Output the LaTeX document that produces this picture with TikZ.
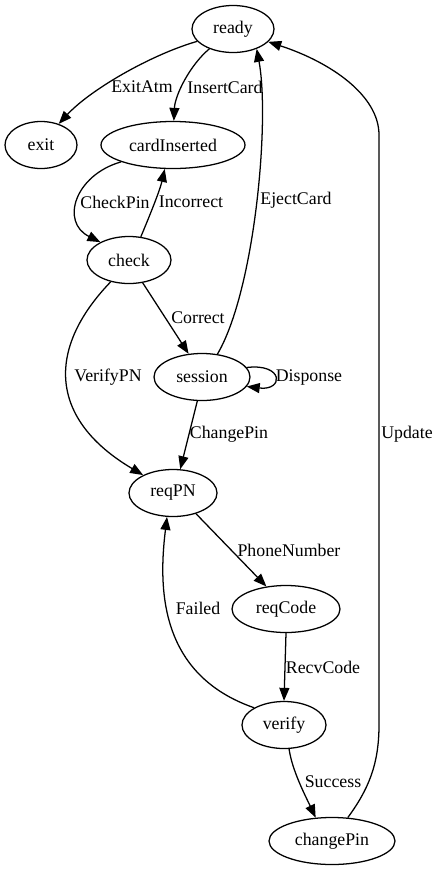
\documentclass[tikz,border=0pt]{standalone}
\usepackage{fontspec}
\setmainfont{Liberation Serif}
\usetikzlibrary{shapes.geometric,arrows.meta}

\tikzset{
  state/.style={ellipse, draw, line width=1.27pt, inner sep=0pt, minimum height=47pt},
  lbl/.style={inner sep=0pt},
  edge/.style={-{Triangle[length=13pt,width=10pt]}, line width=1.27pt}
}

\begin{document}
\begin{tikzpicture}[x=1pt, y=-1pt, font=\fontsize{17.8}{20}\selectfont]
\useasboundingbox (0,0) rectangle (439,871);
\node[state, minimum width=82pt] (ready) at (233,29) {ready};
\node[state, minimum width=72pt] (exit) at (41,145) {exit};
\node[state, minimum width=144pt] (cardInserted) at (173,145) {cardInserted};
\node[state, minimum width=84pt] (check) at (129,260) {check};
\node[state, minimum width=96pt] (session) at (202,377) {session};
\node[state, minimum width=88pt] (reqPN) at (173,493) {reqPN};
\node[state, minimum width=108pt] (reqCode) at (286,609) {reqCode};
\node[state, minimum width=84pt] (verify) at (284,725) {verify};
\node[state, minimum width=126pt] (changePin) at (332,841) {changePin};

\draw[edge] (ready.199) .. controls (150,55) and (90,90) .. (exit.50);
\draw[edge] (ready.220) .. controls (190,65) and (175,95) .. (cardInserted.88);
\draw[edge] (cardInserted.198) .. controls (75,175) and (60,222) .. (check.148);
\draw[edge] (check.63) .. controls (150,215) and (160,190) .. (cardInserted.251);
\draw[edge] (session.56) .. controls (255,290) and (270,120) .. (ready.320);
\draw[edge] (changePin.56) .. controls (368,790) and (379,765) .. (379,725) -- (379,135) .. controls (379,95) and (330,62) .. (ready.340);
\draw[edge] (check.301) -- (session.120);
\draw[edge] (check.230) .. controls (45,350) and (50,420) .. (reqPN.149);
\draw[edge] (session.259) -- (reqPN.73);
\draw[edge] (session.12) .. controls (284,363) and (284,391) .. (session.-12);
\draw[edge] (reqPN.-42) -- (reqCode.131);
\draw[edge] (reqCode.-90) -- (verify.90);
\draw[edge] (verify.150) .. controls (160,675) and (158,590) .. (reqPN.-104);
\draw[edge] (verify.-78) .. controls (292,770) and (305,795) .. (changePin.125);

\node[lbl] (lExitAtm) at (142,87) {ExitAtm};
\node[lbl] (lInsertCard) at (225,87) {InsertCard};
\node[lbl] (lCheckPin) at (115,202) {CheckPin};
\node[lbl] (lIncorrect) at (191,202) {Incorrect};
\node[lbl] (lEjectCard) at (296,200) {EjectCard};
\node[lbl] (lCorrect) at (198,318) {Correct};
\node[lbl] (lVerifyPN) at (108,377) {VerifyPN};
\node[lbl] (lDisponse) at (309,377) {Disponse};
\node[lbl] (lChangePin) at (229,434) {ChangePin};
\node[lbl] (lUpdate) at (407,434) {Update};
\node[lbl] (lPhoneNumber) at (289,550) {PhoneNumber};
\node[lbl] (lFailed) at (198,608) {Failed};
\node[lbl] (lRecvCode) at (323,667) {RecvCode};
\node[lbl] (lSuccess) at (333,782) {Success};
\end{tikzpicture}
\end{document}
